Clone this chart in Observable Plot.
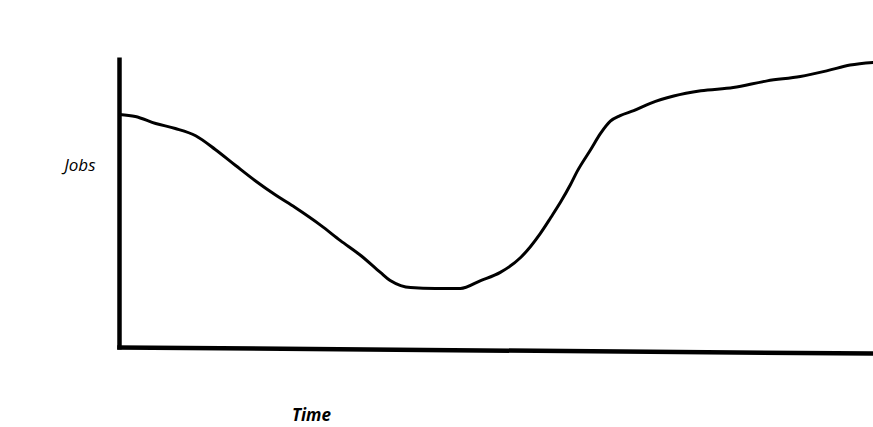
<!DOCTYPE html>
<html>
<head>
<meta charset="utf-8">
<script src="https://cdn.jsdelivr.net/npm/d3@7"></script>
<script src="https://cdn.jsdelivr.net/npm/@observablehq/plot@0.6"></script>
<style>
  html, body { margin: 0; padding: 0; background: #fff; }
  #chart svg { display: block; }
</style>
</head>
<body>
<div id="chart"></div>
<script>
// Conceptual chart: time (0–100) vs jobs (0–100)
const time = [0, 2.1, 4.8, 7.4, 10.1, 12.7, 15.4, 18.0, 20.7, 23.3, 26.7, 29.3, 32.0, 34.6, 35.9, 37.3, 38.6, 41.9, 45.2, 47.9, 50.5, 53.2, 55.8, 57.2, 58.5, 59.8, 60.7, 62.5, 63.8, 65.1, 66.4, 68.2, 70.4, 73.5, 77.1, 81.4, 85.9, 90.3, 93.9, 96.9, 100];
const jobs = [80.5, 79.8, 77.4, 75.7, 73.2, 68.5, 63.0, 57.8, 52.9, 48.6, 42.5, 37.3, 32.2, 26.4, 23.6, 21.9, 21.2, 20.9, 20.9, 23.6, 26.4, 31.5, 39.7, 45.2, 50.5, 56.4, 61.0, 68.5, 74.0, 78.2, 80.1, 81.8, 84.3, 86.8, 88.6, 89.7, 92.0, 93.5, 95.5, 97.4, 98.3];
const xLabel = "Time";
const yLabel = "Jobs";
const baseline = [{t1: -0.3, j1: 0.7, t2: 100, j2: -1.4}];
const yAxisLine = [{t1: 0, j1: 0, t2: 0, j2: 100}];

const data = time.map((t, i) => ({t, j: jobs[i]}));

const chart = Plot.plot({
  width: 873,
  height: 427,
  marginLeft: 119,
  marginRight: 0,
  marginTop: 57,
  marginBottom: 78,
  x: {domain: [0, 100], axis: null},
  y: {domain: [0, 100], axis: null},
  style: {background: "#fff"},
  marks: [
    Plot.link(yAxisLine, {x1: "t1", y1: "j1", x2: "t2", y2: "j2", stroke: "#000", strokeWidth: 4.5, strokeLinecap: "butt"}),
    Plot.link(baseline, {x1: "t1", y1: "j1", x2: "t2", y2: "j2", stroke: "#000", strokeWidth: 4.5, strokeLinecap: "butt"}),
    Plot.line(data, {x: "t", y: "j", stroke: "#000", strokeWidth: 3, curve: "monotone-x"}),
    Plot.text([yLabel], {frameAnchor: "left", text: d => d, textAnchor: "end", dx: -24, dy: -38,
      fontSize: 17, fontStyle: "italic", fontWeight: 400, fontFamily: "Open Sans", fill: "#000"}),
    Plot.text([xLabel], {frameAnchor: "bottom", text: d => d, textAnchor: "middle", dx: -185, dy: 71,
      fontSize: 17, fontStyle: "italic", fontWeight: "bold", fontFamily: "Open Sans", fill: "#000"})
  ]
});
document.getElementById("chart").appendChild(chart);
</script>
</body>
</html>
